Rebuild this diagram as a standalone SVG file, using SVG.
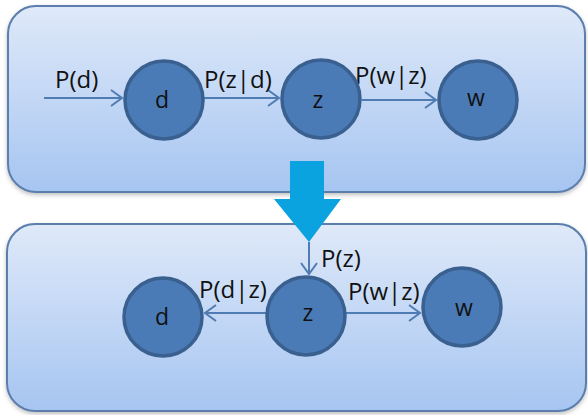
<svg xmlns="http://www.w3.org/2000/svg" width="588" height="415" viewBox="0 0 588 415">
  <defs>
    <linearGradient id="panelGrad" x1="0" y1="0" x2="0" y2="1">
      <stop offset="0" stop-color="#dfe9f9"/>
      <stop offset="1" stop-color="#a6c5f1"/>
    </linearGradient>
    <filter id="shadow" x="-5%" y="-5%" width="110%" height="115%">
      <feDropShadow dx="0" dy="2" stdDeviation="2" flood-color="#000" flood-opacity="0.25"/>
    </filter>
    <marker id="open" markerUnits="userSpaceOnUse" markerWidth="20" markerHeight="20" viewBox="-12 -10 14 20" refX="0" refY="0" orient="auto">
      <path d="M-11,-8 L0,0 L-11,8" fill="none" stroke="#4f7cb3" stroke-width="2"/>
    </marker>
  </defs>
  <style>
    .panel { fill: url(#panelGrad); stroke: #5b7ead; stroke-width: 2; }
    .node { fill: #4b7bb6; stroke: #3a6090; stroke-width: 3.5; }
    .edge { fill: none; stroke: #4f7cb3; stroke-width: 2; marker-end: url(#open); }
    .lbl { font-family: "Open Sans", "Liberation Sans", sans-serif; font-size: 24px; fill: #111; }
    .nlbl { font-family: "Open Sans", "Liberation Sans", sans-serif; font-size: 23px; fill: #111; text-anchor: middle; }
  </style>
  <rect width="588" height="415" fill="#ffffff"/>

  <g id="panel-top">
    <rect class="panel" x="8" y="6" width="577" height="186" rx="28" filter="url(#shadow)"/>
  </g>
  <g id="panel-bottom">
    <rect class="panel" x="7" y="224" width="579" height="187" rx="28" filter="url(#shadow)"/>
  </g>

  <g id="big-arrow">
    <path d="M290,161 L324,161 L324,199 L341,199 L309,242 L274,199 L290,199 Z" fill="#0aa2df"/>
  </g>

  <g id="connectors">
    <line class="edge" x1="44" y1="98" x2="122" y2="98"/>
    <line class="edge" x1="204" y1="98" x2="279" y2="98"/>
    <line class="edge" x1="362" y1="100" x2="436" y2="100"/>
    <line class="edge" x1="309" y1="242" x2="309" y2="274"/>
    <line class="edge" x1="266" y1="313" x2="205" y2="313"/>
    <line class="edge" x1="346" y1="313" x2="420" y2="313"/>
    <text class="lbl" x="55" y="88">P(d)</text>
    <text class="lbl" x="204" y="88">P(z|d)</text>
    <text class="lbl" x="355" y="84">P(w|z)</text>
    <text class="lbl" x="321" y="267">P(z)</text>
    <text class="lbl" x="199" y="298">P(d|z)</text>
    <text class="lbl" x="348" y="300">P(w|z)</text>
  </g>

  <g id="top-d">
    <circle class="node" cx="164" cy="100" r="39"/>
    <text class="nlbl" x="162" y="108">d</text>
  </g>
  <g id="top-z">
    <circle class="node" cx="321" cy="99" r="39"/>
    <text class="nlbl" x="318" y="108">z</text>
  </g>
  <g id="top-w">
    <circle class="node" cx="478" cy="100" r="39"/>
    <text class="nlbl" x="476" y="106">w</text>
  </g>

  <g id="bottom-d">
    <circle class="node" cx="163" cy="317" r="39"/>
    <text class="nlbl" x="162" y="325">d</text>
  </g>
  <g id="bottom-z">
    <circle class="node" cx="306" cy="316" r="39"/>
    <text class="nlbl" x="308" y="321">z</text>
  </g>
  <g id="bottom-w">
    <circle class="node" cx="462" cy="307" r="39"/>
    <text class="nlbl" x="464" y="316">w</text>
  </g>
</svg>
